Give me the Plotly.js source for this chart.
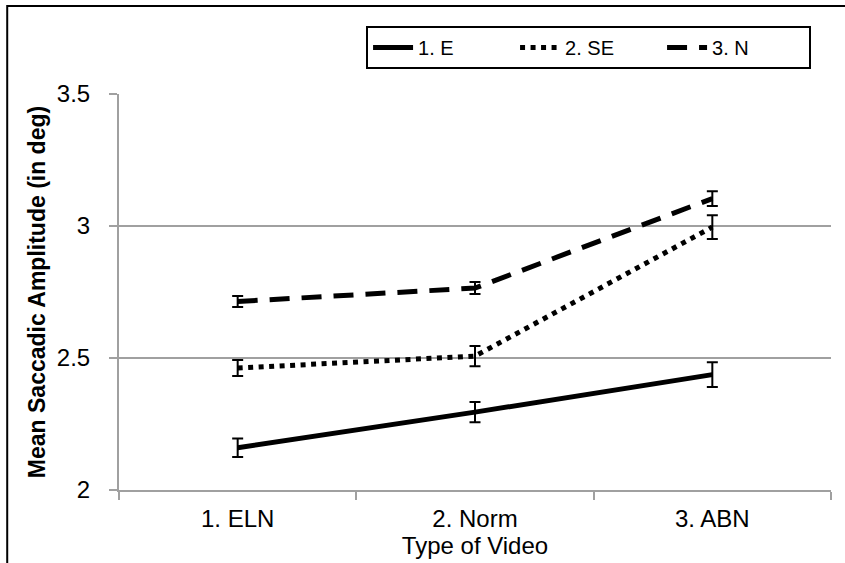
<!DOCTYPE html>
<html>
<head>
<meta charset="utf-8">
<script src="https://cdn.plot.ly/plotly-3.0.1.min.js"></script>
<style>html,body{margin:0;padding:0;background:#fff;}#chart{width:845px;height:563px;}</style>
</head>
<body>
<div id="chart"></div>
<script>
const categories = ["1. ELN", "2. Norm", "3. ABN"];
const seriesNames = ["1. E", "2. SE", "3. N"];
const valuesE = [2.16, 2.295, 2.437];
const errorsE = [0.035, 0.038, 0.047];
const valuesSE = [2.462, 2.507, 2.996];
const errorsSE = [0.030, 0.038, 0.045];
const valuesN = [2.714, 2.765, 3.104];
const errorsN = [0.021, 0.023, 0.028];
const yTicks = [2, 2.5, 3, 3.5];
const yTickLabels = ["2", "2.5", "3", "3.5"];

const FONT = "Liberation Sans, Arial, sans-serif";

function trace(name, y, err, dash, width) {
  return {
    type: "scatter", mode: "lines", name: name,
    x: categories, y: y,
    line: {color: "#000", width: width, dash: dash},
    error_y: {type: "data", array: err, visible: true, color: "#000", thickness: 2, width: 5.5},
    hoverinfo: "x+y+name"
  };
}

const data = [
  trace(seriesNames[0], valuesE, errorsE, "solid", 5),
  trace(seriesNames[1], valuesSE, errorsSE, "5px,5.5px", 5),
  trace(seriesNames[2], valuesN, errorsN, "20px,12px", 5)
];

const layout = {
  width: 845, height: 563,
  margin: {l: 119, r: 14, t: 94, b: 73, pad: 0},
  paper_bgcolor: "#fff", plot_bgcolor: "#fff",
  font: {family: FONT, color: "#000", size: 24},
  showlegend: true,
  legend: {
    orientation: "h", x: 0.972, xanchor: "right", y: 1.172, yanchor: "top",
    bordercolor: "#000", borderwidth: 2, bgcolor: "#fff",
    font: {family: FONT, size: 20, color: "#000"},
    entrywidth: 92, entrywidthmode: "pixels", itemwidth: 40
  },
  xaxis: {
    type: "category", range: [-0.5, 2.5],
    tickson: "boundaries", ticks: "outside", ticklen: 8, tickwidth: 2, tickcolor: "#a0a0a0",
    showline: true, linecolor: "#a0a0a0", linewidth: 2,
    showgrid: false, zeroline: false,
    ticklabelstandoff: 6,
    tickfont: {family: FONT, size: 24, color: "#000"},
    title: {text: "Type of Video", font: {family: FONT, size: 24, color: "#000"}, standoff: 5}
  },
  yaxis: {
    range: [2, 3.5], tickvals: yTicks, ticktext: yTickLabels,
    ticks: "outside", ticklen: 8, tickwidth: 2, tickcolor: "#a0a0a0",
    showline: true, linecolor: "#a0a0a0", linewidth: 2,
    showgrid: true, gridcolor: "#a0a0a0", gridwidth: 2, zeroline: false,
    ticklabelstandoff: 14,
    tickfont: {family: FONT, size: 24, color: "#000"},
    title: {text: "<b>Mean Saccadic Amplitude (in deg)</b>", font: {family: FONT, size: 23, color: "#000"}, standoff: 5}
  },
  shapes: [
    {type: "rect", xref: "paper", yref: "paper", x0: -0.157, x1: 1.2, y0: -0.5, y1: 1.222,
     line: {color: "#000", width: 2}, layer: "below"}
  ]
};

Plotly.newPlot("chart", data, layout, {staticPlot: true, displayModeBar: false});
</script>
</body>
</html>
